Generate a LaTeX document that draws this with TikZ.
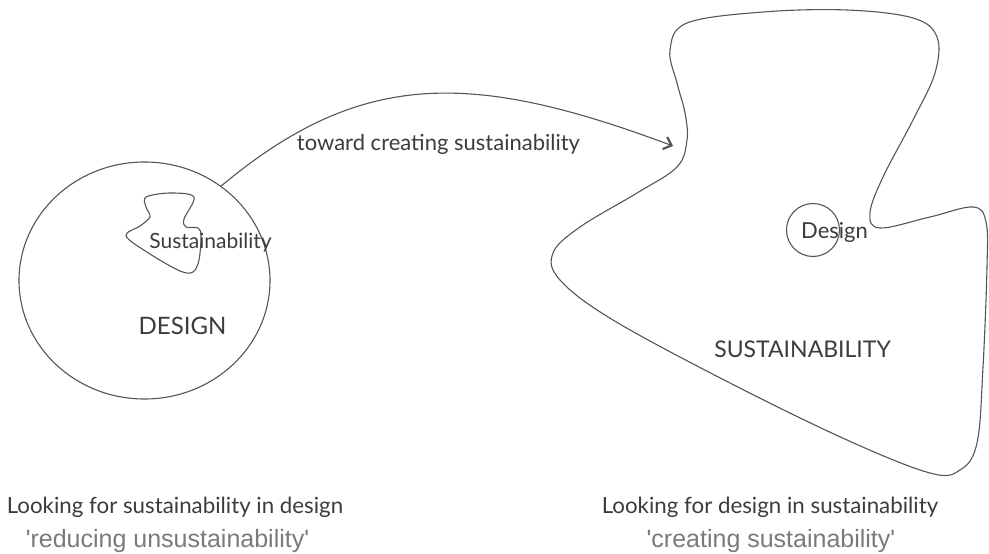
\documentclass[tikz,border=0pt]{standalone}
\usepackage{fontspec}
\setmainfont{Lato}
\newfontfamily\quotefont{Liberation Sans}
\usetikzlibrary{shapes.geometric,arrows.meta}
\definecolor{inkline}{HTML}{555555}
\definecolor{inktext}{HTML}{3C3C3C}
\definecolor{quotegray}{HTML}{7A7A7A}
\tikzset{
  outline/.style={draw=inkline, line width=1.1pt},
  lbl/.style={text=inktext, inner sep=0pt, anchor=base},
  caption/.style={text=inktext, inner sep=0pt, anchor=base, font=\fontsize{22.3}{26}\selectfont},
  quote/.style={text=quotegray, inner sep=0pt, anchor=base, font=\quotefont\fontsize{25}{28}\selectfont},
}
\begin{document}
\begin{tikzpicture}[x=1pt,y=-1pt]
\useasboundingbox (0,0) rectangle (989,554);
% left: design circle
\node[ellipse, outline, minimum width=251pt, minimum height=237pt, inner sep=0pt, outer sep=0pt] (design) at (144.5,280.5) {};
\draw[outline] plot[smooth cycle, tension=0.55] coordinates {
  (146,197) (170,193) (194,197) (184,219) (186,227) (198,228) (201,236)
  (199,260) (193,272) (180,271) (150,254) (126,236) (140,226) (150,217) (146,207)};
\node[lbl, font=\fontsize{21}{24}\selectfont] (sustsmall) at (210.5,248) {Sustainability};
\node[lbl, font=\fontsize{24}{28}\selectfont] (designbig) at (182.5,334) {DESIGN};
% right: sustainability blob
\draw[outline] plot[smooth cycle, tension=0.6] coordinates {
  (670,50) (687,23) (763,12) (847,10) (913,18) (937,37) (935,73) (913,120)
  (883,177) (870,213) (880,228) (930,217) (973,207) (986,222) (987,267)
  (983,367) (977,443) (960,470) (930,473) (847,440) (730,383) (613,320)
  (560,280) (553,253) (580,227) (637,193) (677,167) (687,140) (685,113) (677,83)};
\node[circle, outline, minimum size=53pt, inner sep=0pt] (designsmall) at (813,230) {};
\node[lbl, font=\fontsize{22}{26}\selectfont] (designlbl) at (834.5,238) {Design};
\node[lbl, font=\fontsize{23}{27}\selectfont] (sustbig) at (802.5,357) {SUSTAINABILITY};
% arrow
\coordinate (arrowend) at (673,146);
\draw[outline, -{Straight Barb[length=7pt,width=13pt,line width=2.2pt]}] (design.51) .. controls (360,70) and (470,70) .. (arrowend);
\node[lbl, font=\fontsize{22}{26}\selectfont] (toward) at (438.5,150) {toward creating sustainability};
% captions
\node[caption] (capleft) at (175,513) {Looking for sustainability in design};
\node[quote] (quoteleft) at (167.5,547) {'reducing unsustainability'};
\node[caption] (capright) at (770,513) {Looking for design in sustainability};
\node[quote] (quoteright) at (771,547) {'creating sustainability'};
\end{tikzpicture}
\end{document}
